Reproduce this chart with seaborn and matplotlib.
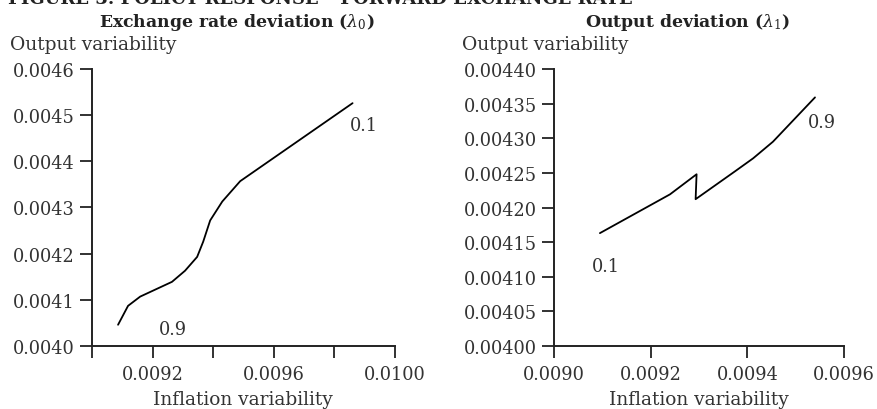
import matplotlib
matplotlib.use("Agg")
import matplotlib.pyplot as plt
import seaborn as sns
import pandas as pd
from matplotlib.ticker import FixedLocator, FixedFormatter

# Left panel: exchange rate deviation (lambda_0)
left_infl = [0.009086, 0.009119, 0.009159, 0.009264, 0.009307, 0.009347, 0.009367,
             0.009390, 0.009430, 0.009489, 0.009860]
left_out = [0.004046, 0.004087, 0.004107, 0.004139, 0.004163, 0.004193, 0.004226,
            0.004272, 0.004313, 0.004357, 0.004526]
# Right panel: output deviation (lambda_1)
right_infl = [0.009095, 0.009240, 0.009295, 0.009293, 0.009374, 0.009412, 0.009453, 0.009540]
right_out = [0.004163, 0.004219, 0.004248, 0.004212, 0.004252, 0.004271, 0.004295, 0.004359]

left_xticks = [0.0090, 0.0092, 0.0094, 0.0096, 0.0098, 0.0100]
left_xlabels = ["", "0.0092", "", "0.0096", "", "0.0100"]
left_yticks = [0.0040, 0.0041, 0.0042, 0.0043, 0.0044, 0.0045, 0.0046]
left_ylabels = ["0.0040", "0.0041", "0.0042", "0.0043", "0.0044", "0.0045", "0.0046"]
right_xticks = [0.0090, 0.0092, 0.0094, 0.0096]
right_xlabels = ["0.0090", "0.0092", "0.0094", "0.0096"]
right_yticks = [0.00400, 0.00405, 0.00410, 0.00415, 0.00420, 0.00425, 0.00430, 0.00435, 0.00440]
right_ylabels = ["0.00400", "0.00405", "0.00410", "0.00415", "0.00420", "0.00425",
                 "0.00430", "0.00435", "0.00440"]

left_annot = [("0.1", 0.009896, 0.004478), ("0.9", 0.009268, 0.004037)]
right_annot = [("0.9", 0.009554, 0.004323), ("0.1", 0.009108, 0.004116)]

titles = ["Exchange rate deviation", "Output deviation"]
title_sub = ["0", "1"]
fig_title = "FIGURE 3: POLICY RESPONSE \u2013 FORWARD EXCHANGE RATE"
y_label = "Output variability"
x_label = "Inflation variability"

sns.set_style("ticks")
plt.rcParams["font.family"] = ["DejaVu Serif"]
plt.rcParams["mathtext.fontset"] = "dejavuserif"

fig = plt.figure(figsize=(8.78, 4.10), dpi=100)
W, H = 878, 410
def rect(x0, x1, y0, y1):
    return [x0 / W, 1 - y1 / H, (x1 - x0) / W, (y1 - y0) / H]

axL = fig.add_axes(rect(92, 395, 70, 347))
axR = fig.add_axes(rect(554, 844, 70, 347))

dfL = pd.DataFrame({"x": left_infl, "y": left_out})
dfR = pd.DataFrame({"x": right_infl, "y": right_out})
sns.lineplot(data=dfL, x="x", y="y", sort=False, estimator=None, color="black", lw=1.3, ax=axL)
sns.lineplot(data=dfR, x="x", y="y", sort=False, estimator=None, color="black", lw=1.3, ax=axR)

tcol = "#333333"
for ax, xt, xl, yt, yl, ann in [
    (axL, left_xticks, left_xlabels, left_yticks, left_ylabels, left_annot),
    (axR, right_xticks, right_xlabels, right_yticks, right_ylabels, right_annot),
]:
    ax.set_xlim(xt[0], xt[-1])
    ax.set_ylim(yt[0], yt[-1])
    ax.xaxis.set_major_locator(FixedLocator(xt))
    ax.xaxis.set_major_formatter(FixedFormatter(xl))
    ax.yaxis.set_major_locator(FixedLocator(yt))
    ax.yaxis.set_major_formatter(FixedFormatter(yl))
    ax.tick_params(axis="both", direction="out", length=8.5, width=1.3, color="#222222",
                   labelsize=12.8, labelcolor=tcol)
    ax.tick_params(axis="y", pad=4)
    ax.tick_params(axis="x", pad=5)
    for s in ["top", "right"]:
        ax.spines[s].set_visible(False)
    for s in ["left", "bottom"]:
        ax.spines[s].set_linewidth(1.4)
        ax.spines[s].set_color("#222222")
    ax.set_xlabel("")
    ax.set_ylabel("")
    for txt, x, y in ann:
        ax.text(x, y, txt, fontsize=12.8, color=tcol, ha="center", va="center")
    ax.patch.set_alpha(0)

for xc in [243, 699]:
    fig.text(xc / W, 1 - 405 / H, x_label, fontsize=13.4, color=tcol, ha="center", va="baseline")
for x0 in [10, 462]:
    fig.text(x0 / W, 1 - 50 / H, y_label, fontsize=13.4, color=tcol, ha="left", va="baseline")

fig.text(237 / W, 1 - 27 / H, titles[0] + r" ($\lambda_" + title_sub[0] + "$)",
         fontsize=12.4, fontweight="bold", color="#222222", ha="center", va="baseline")
fig.text(688 / W, 1 - 27 / H, titles[1] + r" ($\lambda_" + title_sub[1] + "$)",
         fontsize=12.4, fontweight="bold", color="#222222", ha="center", va="baseline")
fig.text(8 / W, 1 - 4 / H, fig_title,
         fontsize=13, fontweight="bold", color="#222222", ha="left", va="baseline")

fig.savefig("out.png", dpi=100)
